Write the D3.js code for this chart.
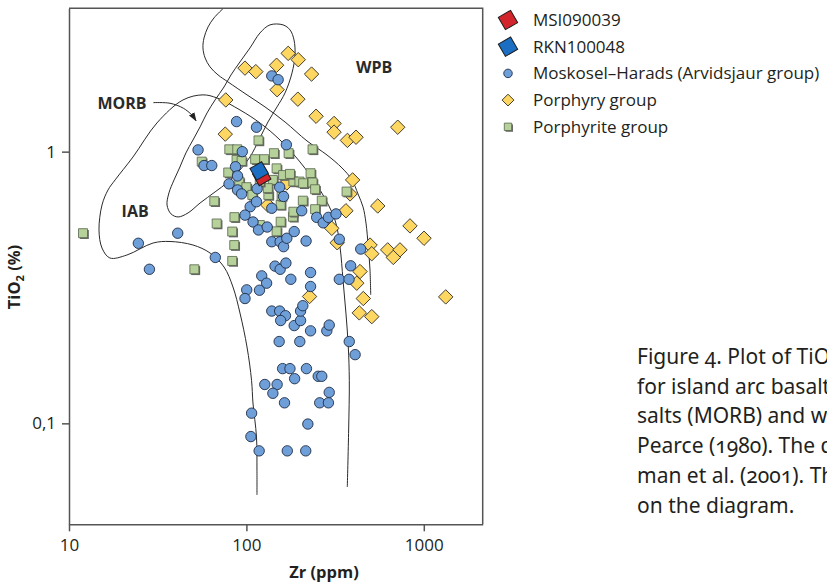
<!DOCTYPE html>
<html>
<head>
<meta charset="utf-8">
<script src="https://cdn.jsdelivr.net/npm/d3@7"></script>
<style>
  body { margin: 0; background: #fff; }
  svg { display: block; font-family: "Open Sans", sans-serif; }
</style>
</head>
<body>
<svg id="chart" width="827" height="588"></svg>
<script>
// --- data: [Zr (ppm), TiO2 (%)] ---
const moskosel = [
  [139,1.90],[151,1.84],[88,1.29],[114,1.23],[168,1.06],[53.4,1.015],[94.8,1.00],[57.7,0.889],
  [63.8,0.889],[86.8,0.880],[89.1,0.814],[79.8,0.761],[89.1,0.723],[94.0,0.699],[115,0.730],
  [154,0.740],[162,0.684],[24.6,0.460],[41.0,0.501],[28.4,0.369],[66.8,0.408],
  [105,0.627],[98.2,0.584],[109,0.551],[117,0.515],[114,0.654],[139,0.619],[131,0.528],
  [139,0.466],[155,0.466],[162,0.447],[169,0.480],[186,0.508],[217,0.469],[205,0.606],
  [249,0.573],[271,0.547],[290,0.573],[320,0.590],[334,0.476],[441,0.438],
  [145,0.379],[155,0.369],[167,0.389],[122,0.349],[130,0.328],[100.4,0.310],[98.2,0.288],
  [118.5,0.309],[178,0.339],[230,0.359],[230,0.319],[334,0.339],[379,0.339],[387,0.380],
  [139,0.259],[154,0.259],[166,0.249],[156,0.239],[186,0.229],[202,0.239],[202,0.259],
  [208,0.271],[230,0.219],[284,0.219],[293,0.230],[153,0.200],[200,0.200],[380,0.200],
  [410,0.179],[160,0.159],[176,0.159],[187,0.146],[218,0.159],[254,0.149],[266,0.149],
  [127,0.139],[149,0.139],[141,0.129],[164,0.119],[293,0.130],[259,0.119],[290,0.119],
  [107,0.109],[222,0.0994],[106,0.0894],[118,0.0792],[170,0.0792],[216,0.0792]
];
const porphyry = [
  [98.2,2.03],[113,1.97],[148,2.08],[172,2.30],[196,2.18],[233,1.93],[149,1.69],[76.5,1.55],
  [195,1.56],[76,1.16],[247,1.35],[312,1.27],[312,1.18],[371,1.10],[415,1.13],[713,1.23],
  [397,0.787],[384,0.699],[364,0.606],[550,0.631],[836,0.533],[1003,0.480],[303,0.522],
  [325,0.462],[498,0.453],[509,0.421],[626,0.435],[734,0.435],[673,0.408],[437,0.362],
  [419,0.328],[456,0.288],[433,0.255],[509,0.247],[1329,0.292],[227,0.293],[132,0.636],[169,0.767]
];
const porphyrite = [
  [12.0,0.501],[50.9,0.369],[65.9,0.657],[68.0,0.544],[85.6,0.574],[83.2,0.508],[85.4,0.453],
  [83.2,0.396],[133,0.693],[156,0.637],[156,0.552],[148,0.509],[183,0.576],[184,0.601],
  [119,0.537],[117,1.10],[80.1,1.02],[88.8,1.02],[112,0.938],[126,0.938],[143,0.987],
  [173,0.987],[148,0.868],[161,0.820],[141,0.787],[184,0.777],[176,0.828],[88,0.932],
  [94,0.924],[79,0.838],[91.2,0.776],[132,0.734],[158,0.687],[199,0.776],[100,0.740],
  [56,0.919],[119,0.776],[236,1.02],[230,0.833],[209,0.765],[236,0.770],[244,0.727],
  [208,0.660],[266,0.660],[244,0.614],[367,0.713],[108,0.693]
];
const msi090039 = [[122, 0.810]];
const rkn100048 = [[118, 0.849]];

// field boundaries (Pearce 1980)
const iabLine = [
  [114.7,0.0545],[114.7,0.0673],[114,0.089],[108.9,0.1188],[106.9,0.144],[100.8,0.191],
  [92,0.2547],[84,0.3176],[74.8,0.3762],[62.4,0.4236],[50,0.4533],[37.1,0.467],[29.8,0.4611],
  [21.2,0.4164],[17,0.4061],[15.35,0.4418],[14.76,0.515],[15.35,0.6364],[16.6,0.723],
  [18.2,0.787],[22.95,0.956],[31.3,1.275],[43.9,1.55],[56.9,1.618],[68.3,1.576],[92,1.424],
  [119.3,1.275],[154.7,1.104],[200.5,0.9165],[260,0.723],[315.8,0.56],[337,0.4457],
  [350.5,0.337],[364,0.2547],[375.3,0.191],[380.3,0.144],[377,0.0945],[370.5,0.0583]
];
const morbLine = [
  [160.9,2.928],[135.8,2.928],[119.3,2.735],[104.8,2.409],[92,2.139],[81.9,1.916],[74.8,1.730],
  [66.6,1.550],[60.0,1.388],[54.8,1.233],[50,1.104],[45.6,0.989],[42.2,0.878],[39.1,0.787],
  [36.6,0.705],[35.7,0.636],[37.6,0.590],[41.2,0.575],[46.9,0.595],[54.8,0.647],[66.6,0.711],
  [78.7,0.773],[92,0.856],[104.8,0.956],[117.7,1.104],[132.3,1.286],[148.8,1.461],
  [165.1,1.645],[180.8,1.949],[187.9,2.270],[185.5,2.578],[176.2,2.806]
];
const wpbLine = [
  [74.1,3.37],[65.7,3.107],[60.8,2.878],[57.7,2.622],[56.9,2.409],[58.5,2.213],[62.4,2.05],
  [69.2,1.916],[78.7,1.806],[100.8,1.618],[127.3,1.461],[165.1,1.286],[219.6,1.095],
  [284.7,0.972],[345.8,0.871],[393.7,0.787],[425.6,0.699],[454.4,0.626],[472.2,0.546],
  [486.5,0.4457],[497.5,0.367],[502,0.297]
];
const morbArrow = [[29.9,1.515],[37.1,1.507],[44.1,1.445],[49.2,1.365],[52.0,1.300]];

const fieldLabels = [
  { name: 'MORB', zr: 19.9, ti: 1.51 },
  { name: 'IAB', zr: 23.6, ti: 0.601 },
  { name: 'WPB', zr: 525, ti: 2.04 }
];
const xTicks = [10, 100, 1000];
const yTicks = [0.1, 1];
const legendNames = ['MSI090039', 'RKN100048', 'Moskosel\u2013Harads (Arvidsjaur group)', 'Porphyry group', 'Porphyrite group'];
const legendTypes = ['red', 'blue', 'circle', 'diamond', 'square'];
const caption = [
  'Figure 4. Plot of TiO\u2082 versus Zr with the fields',
  'for island arc basalts (IAB), mid-ocean ridge ba-',
  'salts (MORB) and within-plate basalts (WPB) after',
  'Pearce (1980). The data for the Arvidsjaur group',
  'man et al. (2001). The two samples are shown',
  'on the diagram.'
];

// --- drawing ---
const svg = d3.select('#chart');
const plot = { left: 69, right: 482.7, top: 8.3, bottom: 524.3 };
const ink = '#231f20';

const x = d3.scaleLog().domain([10, 2148]).range([plot.left, plot.right]);
const y = d3.scaleLog().domain([0.0425, 3.37]).range([plot.bottom, plot.top]);

const defs = svg.append('defs');
defs.append('marker')
  .attr('id', 'arrow')
  .attr('viewBox', '0 0 10 10')
  .attr('refX', 9).attr('refY', 5)
  .attr('markerWidth', 9).attr('markerHeight', 9)
  .attr('markerUnits', 'userSpaceOnUse')
  .attr('orient', 'auto')
  .append('path').attr('d', 'M0,1.5L10,5L0,8.5Z').attr('fill', '#222');
defs.append('clipPath').attr('id', 'plotclip')
  .append('rect').attr('x', plot.left).attr('y', plot.top)
  .attr('width', plot.right - plot.left).attr('height', plot.bottom - plot.top);

// field lines
const line = d3.line().x(d => x(d[0])).y(d => y(d[1])).curve(d3.curveCatmullRom.alpha(0.5));
const loop = d3.line().x(d => x(d[0])).y(d => y(d[1])).curve(d3.curveCatmullRomClosed.alpha(0.5));

const fields = svg.append('g').attr('clip-path', 'url(#plotclip)')
  .attr('fill', 'none').attr('stroke', '#2a2a2a').attr('stroke-width', 1);
fields.append('path').attr('d', line(iabLine));
fields.append('path').attr('d', loop(morbLine));
fields.append('path').attr('d', line(wpbLine));
fields.append('path').attr('d', line(morbArrow)).attr('marker-end', 'url(#arrow)');

svg.append('g').selectAll('text').data(fieldLabels).join('text')
  .attr('x', d => x(d.zr)).attr('y', d => y(d.ti))
  .attr('dy', '0.35em').attr('text-anchor', 'middle')
  .attr('font-size', 16).attr('font-weight', 700).attr('fill', '#2a2a2a')
  .text(d => d.name);

// marker helpers
const sq = s => d3.symbol().type(d3.symbolSquare).size(s * s)();

function drawMarker(g, type, scale) {
  const k = scale || 1;
  if (type === 'circle') {
    g.append('circle').attr('r', 5.2 * k)
      .attr('fill', '#6f9fd8').attr('stroke', '#1f2d45').attr('stroke-width', 0.9);
  } else if (type === 'diamond') {
    g.append('path').attr('d', sq(10.2 * k)).attr('transform', 'rotate(45)')
      .attr('fill', '#fdd762').attr('stroke', '#3a3529').attr('stroke-width', 0.9);
  } else if (type === 'square') {
    g.append('path').attr('d', sq(9 * k)).attr('transform', 'translate(1.3,1.3)')
      .attr('fill', '#6a6a6a');
    g.append('path').attr('d', sq(9 * k))
      .attr('fill', '#b7d19b').attr('stroke', '#56634a').attr('stroke-width', 0.8);
  } else {
    g.append('path').attr('d', sq(13.5 * k)).attr('transform', 'rotate(60)')
      .attr('fill', type === 'red' ? '#d3262c' : '#1b6ec2')
      .attr('stroke', '#1e1e1e').attr('stroke-width', 1);
  }
}

function plotGroup(data, type) {
  const g = svg.append('g');
  data.forEach(d => {
    const m = g.append('g').attr('transform', `translate(${x(d[0])},${y(d[1])})`);
    drawMarker(m, type);
  });
}

plotGroup(porphyry, 'diamond');
plotGroup(porphyrite, 'square');
plotGroup(moskosel, 'circle');
plotGroup(msi090039, 'red');
plotGroup(rkn100048, 'blue');

// axes + frame
const xAxis = svg.append('g').attr('transform', `translate(0,${plot.bottom})`)
  .call(d3.axisBottom(x).tickValues(xTicks).tickFormat(d3.format('d'))
    .tickSize(7).tickSizeOuter(0).tickPadding(8));
const yAxis = svg.append('g').attr('transform', `translate(${plot.left},0)`)
  .call(d3.axisLeft(y).tickValues(yTicks).tickFormat(d => d === 1 ? '1' : '0,1')
    .tickSize(7).tickSizeOuter(0).tickPadding(6));
[xAxis, yAxis].forEach(a => {
  a.selectAll('path, line').attr('stroke', '#555').attr('stroke-width', 1.5);
  a.selectAll('text').attr('font-size', 17).attr('fill', ink).attr('font-family', '"Open Sans", sans-serif');
});
svg.append('path')
  .attr('d', `M${plot.left},${plot.top}H${plot.right}V${plot.bottom}`)
  .attr('fill', 'none').attr('stroke', '#555').attr('stroke-width', 1.5);

svg.append('text').attr('x', 324).attr('y', 578).attr('text-anchor', 'middle')
  .attr('font-size', 16.5).attr('font-weight', 700).attr('fill', ink).text('Zr (ppm)');
const yt = svg.append('text').attr('transform', 'translate(20,277) rotate(-90)')
  .attr('text-anchor', 'middle').attr('font-size', 16.5).attr('font-weight', 700).attr('fill', ink);
yt.append('tspan').text('TiO');
yt.append('tspan').attr('font-size', 11).attr('dy', 4).text('2');
yt.append('tspan').attr('dy', -4).text(' (%)');

// legend
const legend = svg.append('g');
legendNames.forEach((name, i) => {
  const row = legend.append('g').attr('transform', `translate(0,${20 + i * 26.7})`);
  const m = row.append('g').attr('transform', 'translate(508,0)');
  drawMarker(m, legendTypes[i], i < 2 ? 1.05 : 0.82);
  row.append('text').attr('x', 533).attr('dy', '0.35em')
    .attr('font-size', 17).attr('fill', ink).text(name);
});

// caption (cut off by the page edge as in the source)
svg.append('g').selectAll('text').data(caption).join('text')
  .attr('x', 637).attr('y', (d, i) => 364 + i * 29.7)
  .attr('font-family', '"Noto Sans", sans-serif')
  .style('font-variant-numeric', 'oldstyle-nums')
  .attr('font-size', 21).attr('fill', ink)
  .text(d => d);
</script>
</body>
</html>
